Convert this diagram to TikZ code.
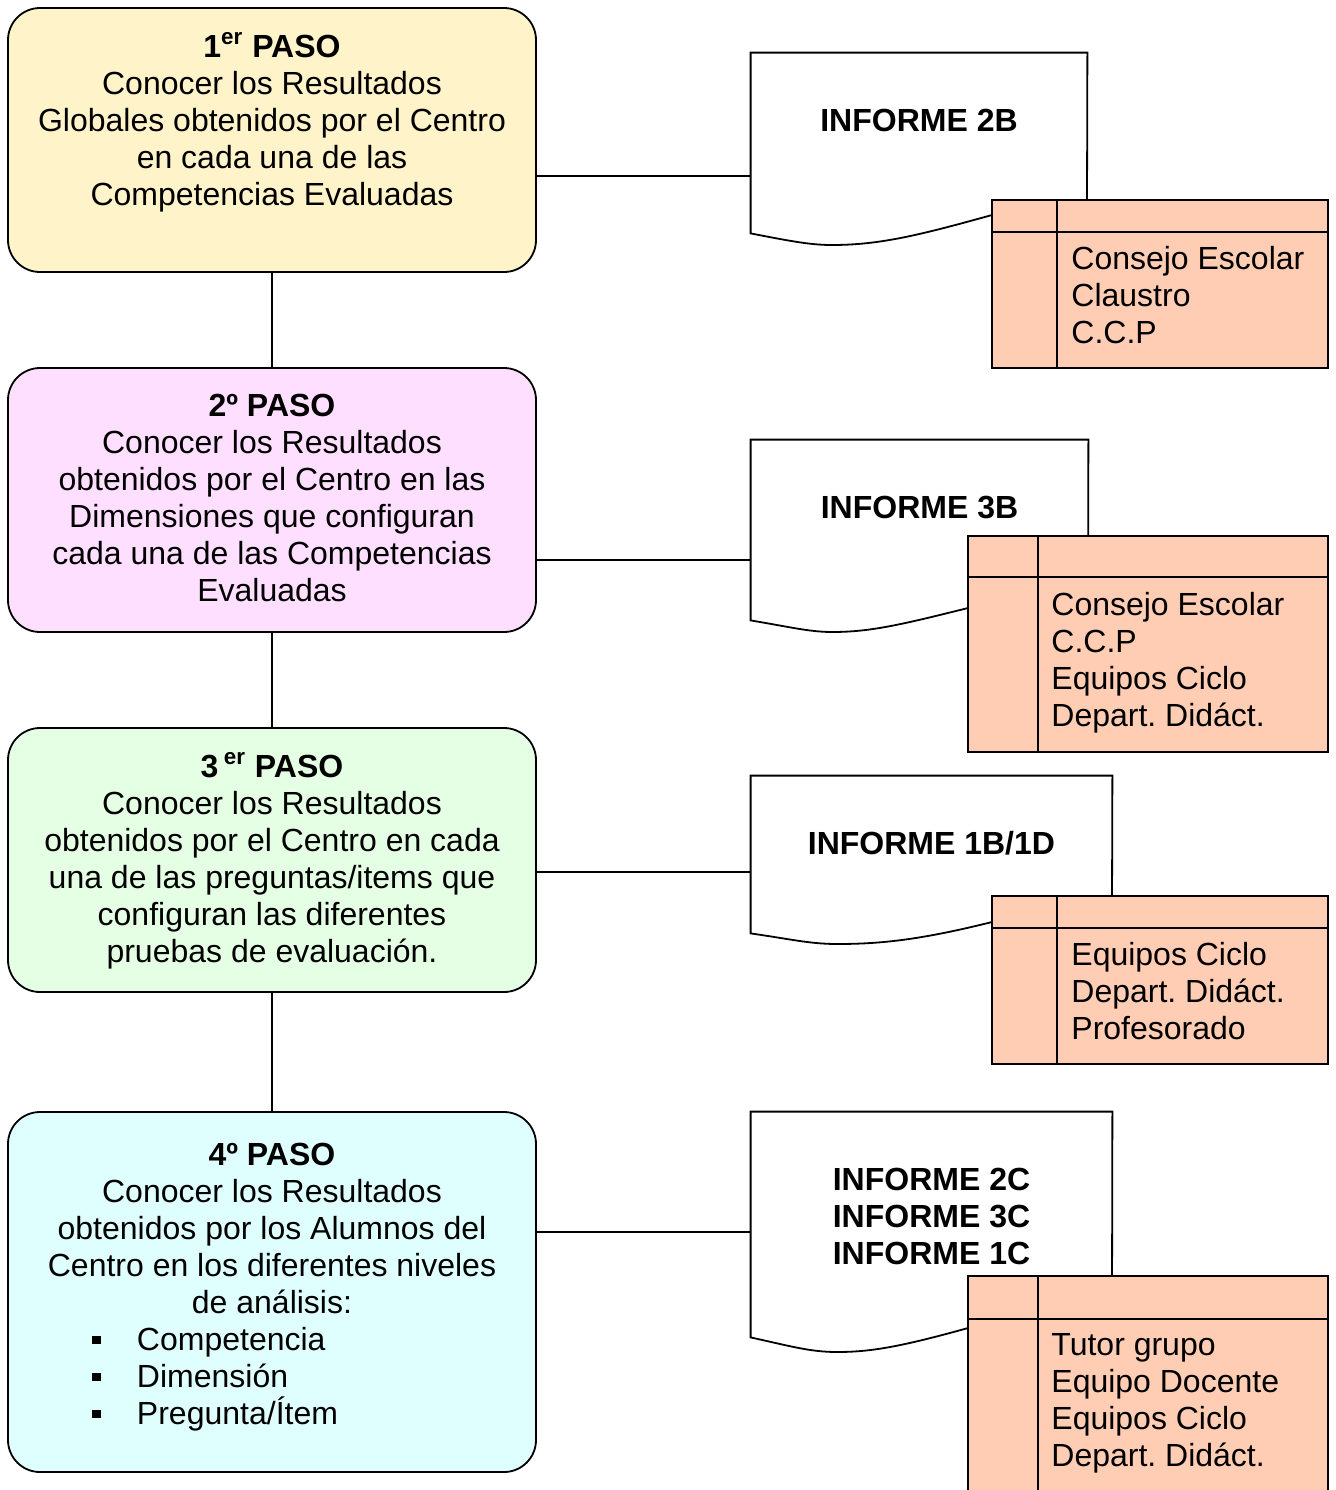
\documentclass[tikz,border=0pt]{standalone}
\usepackage{fontspec}
\setmainfont{Liberation Sans}
\usetikzlibrary{positioning}
\frenchspacing

\definecolor{pasoA}{HTML}{FFF3C9}
\definecolor{pasoB}{HTML}{FFDFFF}
\definecolor{pasoC}{HTML}{E5FFE5}
\definecolor{pasoD}{HTML}{DFFFFF}
\definecolor{rolfill}{HTML}{FFCDB4}

\newcommand{\firstline}{\rule{0pt}{12pt}}
\newcommand{\bulletline}[1]{\makebox[180pt][l]{\raisebox{3.5pt}{\rule{4.5pt}{4pt}}\hspace{18pt}#1}}

\begin{document}
\begin{tikzpicture}[x=0.5pt,y=-0.5pt,
  paso/.style={shape=rectangle,draw=black,rounded corners=16pt,line width=0.9pt,minimum width=264pt,minimum height=132pt,inner sep=0pt},
  pasotext/.style={align=center,inner sep=0pt,font=\fontsize{16pt}{18.5pt}\selectfont},
  doc/.style={shape=rectangle,inner sep=0pt},
  doctext/.style={align=center,inner sep=0pt,font=\fontsize{16pt}{18.5pt}\selectfont\bfseries},
  rol/.style={shape=rectangle,draw=black,fill=rolfill,line width=0.9pt,inner sep=0pt},
  roltext/.style={anchor=north west,align=left,inner sep=0pt,font=\fontsize{16pt}{18.5pt}\selectfont},
  link/.style={-,draw=black,line width=0.9pt}]
\clip (0,0) rectangle (1335,1490);

\node[paso,fill=pasoA] (p1) at (272,140) {};
\node[paso,fill=pasoB] (p2) at (272,500) {};
\node[paso,fill=pasoC] (p3) at (272,860) {};
\node[paso,fill=pasoD,minimum height=180pt] (p4) at (272,1292) {};

\node[pasotext,below=12.5pt of p1.north] (t1) {\firstline\textbf{1\textsuperscript{er} PASO}\\Conocer los Resultados\\Globales obtenidos por el Centro\\en cada una de las\\Competencias Evaluadas};
\node[pasotext,below=12.5pt of p2.north] (t2) {\firstline\textbf{2º PASO}\\Conocer los Resultados\\obtenidos por el Centro en las\\Dimensiones que configuran\\cada una de las Competencias\\Evaluadas};
\node[pasotext,below=12.5pt of p3.north] (t3) {\firstline\textbf{3\,\textsuperscript{er} PASO}\\Conocer los Resultados\\obtenidos por el Centro en cada\\una de las preguntas/items que\\configuran las diferentes\\pruebas de evaluación.};
\node[pasotext,below=15pt of p4.north] (t4) {\firstline\textbf{4º PASO}\\Conocer los Resultados\\obtenidos por los Alumnos del\\Centro en los diferentes niveles\\de análisis:\\\bulletline{Competencia}\\\bulletline{Dimensión}\\\bulletline{Pregunta/Ítem}};

\path [link] (p1) edge (p2);
\path [link] (p2) edge (p3);
\path [link] (p3) edge (p4);

\node[doc,minimum width=168pt,minimum height=90pt] (d1) at (919,143) {};
\node[doc,minimum width=168.5pt,minimum height=90pt] (d2) at (919.5,530) {};
\node[doc,minimum width=180.5pt,minimum height=78.5pt] (d3) at (931.5,854.5) {};
\node[doc,minimum width=180.5pt,minimum height=112.5pt] (d4) at (931.5,1224.5) {};

\path [link] (p1.east |- 0,176) edge (d1.west |- 0,176);
\path [link] (p2.east |- 0,560) edge (d2.west |- 0,560);
\path [link] (p3.east |- 0,872) edge (d3.west |- 0,872);
\path [link] (p4.east |- 0,1232) edge (d4.west |- 0,1232);

\draw[line width=0.9pt,fill=white] (d1.south west) -- (d1.north west) -- (d1.north east) -- (1087,205) -- (992,215) .. controls (920,235) and (880,245) .. (832,245) .. controls (810,245) and (790,241) .. cycle;
\draw[line width=0.9pt,fill=white] (d2.south west) -- (d2.north west) -- (d2.north east) -- (1088,600) -- (968,608) .. controls (900,625) and (870,632) .. (832,632) .. controls (810,632) and (790,627) .. cycle;
\draw[line width=0.9pt,fill=white] (d3.south west) -- (d3.north west) -- (d3.north east) -- (1112,905) -- (992,922) .. controls (920,940) and (880,944) .. (837,944) .. controls (810,944) and (790,939) .. cycle;
\draw[line width=0.9pt,fill=white] (d4.south west) -- (d4.north west) -- (d4.north east) -- (1112,1300) -- (968,1328) .. controls (900,1347) and (870,1352) .. (837,1352) .. controls (810,1352) and (790,1346) .. cycle;

\node[doctext,below=27pt of d1.north] (i1) {\firstline INFORME 2B};
\node[doctext,below=27pt of d2.north] (i2) {\firstline INFORME 3B};
\node[doctext,below=27pt of d3.north] (i3) {\firstline INFORME 1B/1D};
\node[doctext,below=27pt of d4.north] (i4) {\firstline INFORME 2C\\INFORME 3C\\INFORME 1C};

% destinatarios
\node[rol,minimum width=168pt,minimum height=84pt] (r1) at (1160,284) {};
\node[rol,minimum width=180pt,minimum height=108pt] (r2) at (1148,644) {};
\node[rol,minimum width=168pt,minimum height=84pt] (r3) at (1160,980) {};
\node[rol,minimum width=180pt,minimum height=117pt] (r4) at (1148,1393) {};

\draw[line width=0.9pt] ([yshift=-16.5pt]r1.north west) -- ([yshift=-16.5pt]r1.north east);
\draw[line width=0.9pt] ([xshift=33pt]r1.north west) -- ([xshift=33pt]r1.south west);
\draw[line width=0.9pt] ([yshift=-21pt]r2.north west) -- ([yshift=-21pt]r2.north east);
\draw[line width=0.9pt] ([xshift=35.5pt]r2.north west) -- ([xshift=35.5pt]r2.south west);
\draw[line width=0.9pt] ([yshift=-16.5pt]r3.north west) -- ([yshift=-16.5pt]r3.north east);
\draw[line width=0.9pt] ([xshift=33pt]r3.north west) -- ([xshift=33pt]r3.south west);
\draw[line width=0.9pt] ([yshift=-22pt]r4.north west) -- ([yshift=-22pt]r4.north east);
\draw[line width=0.9pt] ([xshift=35.5pt]r4.north west) -- ([xshift=35.5pt]r4.south west);

\node[roltext] (l1) at (1071,245) {\firstline Consejo Escolar\\Claustro\\C.C.P};
\node[roltext] (l2) at (1051,591) {\firstline Consejo Escolar\\C.C.P\\Equipos Ciclo\\Depart. Didáct.};
\node[roltext] (l3) at (1071,941) {\firstline Equipos Ciclo\\Depart. Didáct.\\Profesorado};
\node[roltext] (l4) at (1051,1331) {\firstline Tutor grupo\\Equipo Docente\\Equipos Ciclo\\Depart. Didáct.};
\end{tikzpicture}
\end{document}
